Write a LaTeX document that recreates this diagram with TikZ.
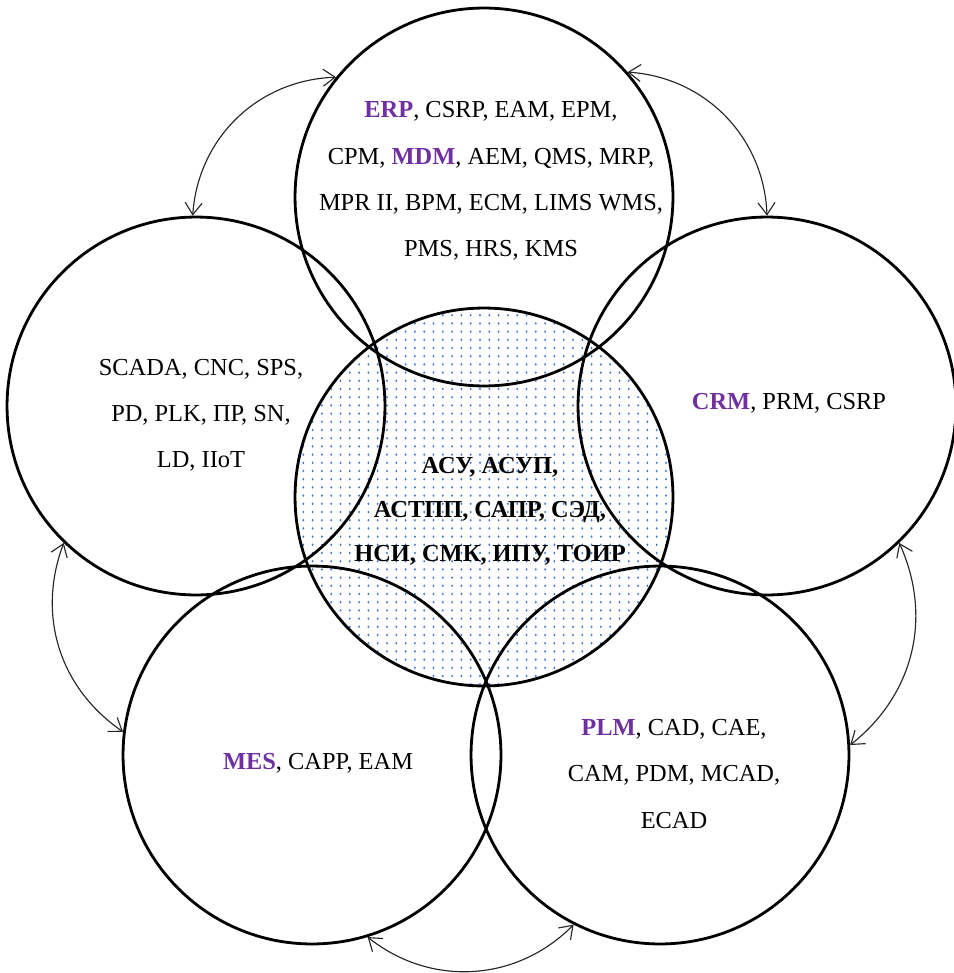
\documentclass[tikz,border=0pt]{standalone}
\usepackage{fontspec}
\setmainfont{Liberation Serif}
\usetikzlibrary{arrows.meta}
\definecolor{hl}{HTML}{7030A0}
\definecolor{dotblue}{HTML}{3F72CF}
\newcommand{\hk}[1]{\textcolor{hl}{\textbf{#1}}}
\begin{document}
\begin{tikzpicture}[x=0.02cm,y=0.02cm,
  ring/.style={circle, draw, line width=1.6pt, minimum size=7.56cm, inner sep=0pt},
  lbl/.style={align=center, font=\fontsize{13.9}{26.3}\selectfont, inner sep=0pt},
  clbl/.style={align=center, font=\bfseries\fontsize{13.9}{25}\selectfont, inner sep=0pt},
  link/.style={line width=0.65pt, draw=black!85, {Straight Barb[length=2.4mm,width=3.4mm]}-{Straight Barb[length=2.4mm,width=3.4mm]}}
]
\useasboundingbox (0,0) rectangle (953,-973);

% dotted fill of the central disk
\begin{scope}
  \clip (484,-497) circle (3.76cm);
  \foreach \i in {0,...,42}
    \foreach \j in {0,...,47}
      \fill[dotblue] (294+9.3*\i,-307-8.2*\j) ellipse (0.55pt and 0.75pt);
\end{scope}

% circles
\node[ring] (C)  at (484,-497) {};
\node[ring] (T)  at (484,-197) {};
\node[ring] (L)  at (196,-406) {};
\node[ring] (R)  at (767,-406) {};
\node[ring] (BL) at (312,-755) {};
\node[ring] (BR) at (660,-755) {};

% texts
\node[lbl] (tT) at (491,-181) {\hk{ERP}, CSRP, EAM, EPM,\\ CPM, \hk{MDM}, AEM, QMS, MRP,\\ MPR II, BPM, ECM, LIMS WMS,\\ PMS, HRS, KMS};
\node[lbl] (tL) at (201,-415) {SCADA, CNC, SPS,\\ PD, PLK, ПР, SN,\\ LD, IIoT};
\node[lbl] (tR) at (789,-403) {\hk{CRM}, PRM, CSRP};
\node[lbl] (tBL) at (318,-763) {\hk{MES}, CAPP, EAM};
\node[lbl] (tBR) at (674,-774) {\hk{PLM}, CAD, CAE,\\ CAM, PDM, MCAD,\\ ECAD};
\node[clbl] (tC) at (490,-511) {АСУ, АСУП,\\ АСТПП, САПР, СЭД,\\ НСИ, СМК, ИПУ, ТОИР};

% links between neighbouring circles
\draw[link] (L.91)  to[bend left=42] (T.141);
\draw[link] (T.41)  to[bend left=42] (R.90);
\draw[link] (R.314) to[bend left=38] (BR.3);
\draw[link] (BR.243) to[bend left=42] (BL.287);
\draw[link] (BL.173) to[bend left=38] (L.226);
\end{tikzpicture}
\end{document}
